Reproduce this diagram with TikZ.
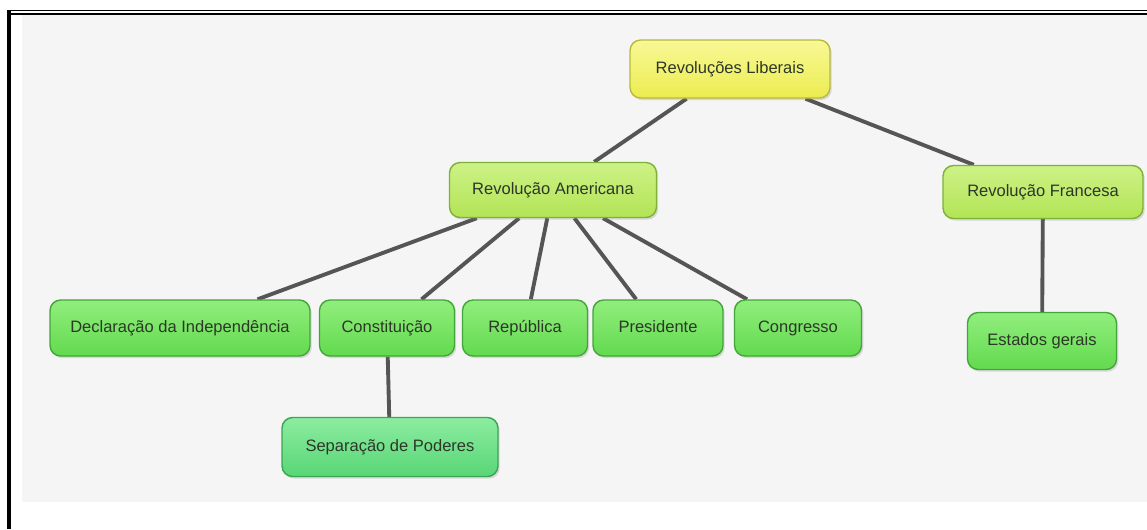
\documentclass[tikz,border=0pt]{standalone}
\usepackage{fontspec}
\setmainfont{Liberation Sans}
\usetikzlibrary{shadows,backgrounds}

\definecolor{paper}{RGB}{245,245,245}
\definecolor{linkgray}{RGB}{85,85,85}
\definecolor{textgray}{RGB}{45,55,40}
\definecolor{rootfill}{RGB}{236,236,80}
\definecolor{rootlight}{RGB}{248,248,150}
\definecolor{rootborder}{RGB}{185,185,60}
\definecolor{branchfill}{RGB}{178,228,85}
\definecolor{branchlight}{RGB}{205,242,135}
\definecolor{branchborder}{RGB}{125,178,55}
\definecolor{leaffill}{RGB}{98,218,78}
\definecolor{leaflight}{RGB}{145,238,125}
\definecolor{leafborder}{RGB}{68,165,58}
\definecolor{sepfill}{RGB}{88,214,118}
\definecolor{seplight}{RGB}{140,236,160}
\definecolor{sepborder}{RGB}{58,165,85}

\begin{document}
\begin{tikzpicture}[
        x=0.02cm, y=-0.02cm, font=\fontsize{9.4}{11}\selectfont,
        concept/.style={draw, rounded corners=6pt, line width=0.8pt, align=center, text=textgray,
            text height=0.72em, text depth=0.22em,
            drop shadow={opacity=0.25, shadow xshift=1pt, shadow yshift=-1.2pt}},
        root/.style={concept, draw=rootborder, top color=rootlight, bottom color=rootfill},
        branch/.style={concept, draw=branchborder, top color=branchlight, bottom color=branchfill},
        leaf/.style={concept, draw=leafborder, top color=leaflight, bottom color=leaffill},
        subleaf/.style={concept, draw=sepborder, top color=seplight, bottom color=sepfill},
        link/.style={draw=linkgray, line width=2.2pt}
    ]
        \useasboundingbox (0,0) rectangle (1147,529);

        % Raiz do mapa.
        \node[root, minimum width=4cm, minimum height=1.16cm] (liberais) at (730,69) {Revoluções Liberais};

        % As duas revoluções.
        \node[branch, minimum width=4.14cm, minimum height=1.1cm] (americana) at (553,190) {Revolução Americana};
        \node[branch, minimum width=4cm, minimum height=1.06cm] (francesa) at (1043,192) {Revolução Francesa};

        % Conceitos da Revolução Americana.
        \node[leaf, minimum width=5.2cm, minimum height=1.12cm] (declaracao) at (180,328) {Declaração da Independência};
        \node[leaf, minimum width=2.7cm, minimum height=1.12cm] (constituicao) at (387,328) {Constituição};
        \node[leaf, minimum width=2.5cm, minimum height=1.12cm] (republica) at (525,328) {República};
        \node[leaf, minimum width=2.6cm, minimum height=1.12cm] (presidente) at (658,328) {Presidente};
        \node[leaf, minimum width=2.54cm, minimum height=1.12cm] (congresso) at (798,328) {Congresso};
        \node[subleaf, minimum width=4.32cm, minimum height=1.18cm] (separacao) at (390,447) {Separação de Poderes};

        % Conceito da Revolução Francesa.
        \node[leaf, minimum width=2.98cm, minimum height=1.14cm] (estados) at (1042,341) {Estados gerais};

        \begin{scope}[on background layer]
            % Moldura e fundo.
            \fill[paper] (22,15) rectangle (1147,502);
            \draw[line width=2.3pt] (9,10) -- (9,529);
            \draw[line width=0.6pt] (7,10.5) -- (1147,10.5);
            \draw[line width=1.2pt] (7,14) -- (1147,14);

            % Ligações entre os conceitos.
            \draw[link] (liberais) -- (americana);
            \draw[link] (liberais) -- (francesa);
            \draw[link] (americana) -- (declaracao);
            \draw[link] (americana) -- (constituicao);
            \draw[link] (americana) -- (republica);
            \draw[link] (americana) -- (presidente);
            \draw[link] (americana) -- (congresso);
            \draw[link] (constituicao) -- (separacao);
            \draw[link] (francesa) -- (estados);
        \end{scope}
    \end{tikzpicture}
\end{document}
